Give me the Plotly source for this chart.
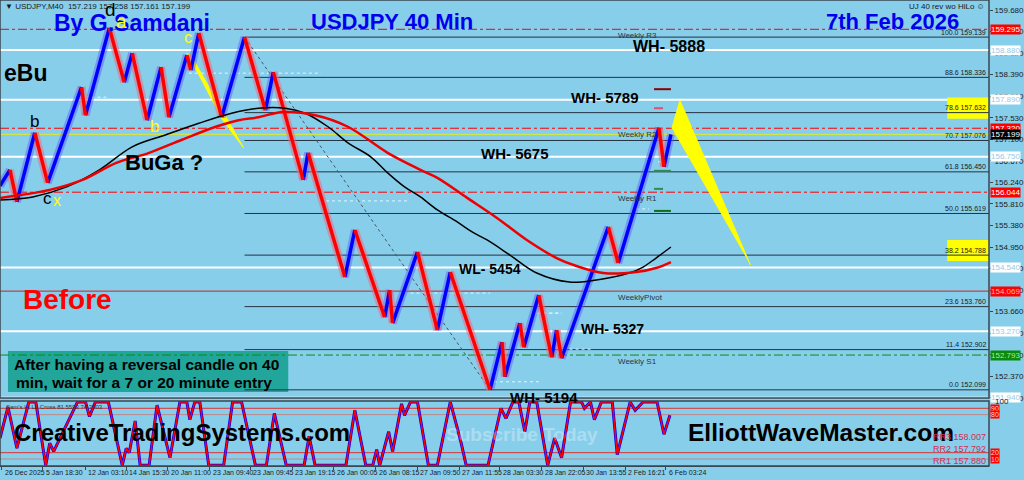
import plotly.graph_objects as go

BG = "#87CEEB"
FONT = "Liberation Sans"

# ---- price path (bar position, price) : swing points
price_x = [0, 10, 17, 35, 48, 82, 86, 110, 125, 133, 148, 162, 170, 188, 192, 200, 223, 246, 267, 275,
           305, 310, 347, 357, 387, 392, 395, 420, 440, 453, 493, 505, 508, 523, 527, 542, 555, 560, 565, 612,
           622, 663, 668, 675]
price_y = [156.17, 156.49, 155.85, 157.23, 156.23, 158.14, 157.58, 159.32, 158.24, 158.82,
           157.48, 158.54, 157.54, 158.78, 158.48, 159.22, 157.54, 159.14, 157.68, 158.44,
           156.29, 156.83, 154.35, 155.29, 153.55, 154.09, 153.43, 154.85, 153.29, 154.45,
           152.10, 153.05, 152.36, 153.43, 152.95, 153.99, 152.75, 153.29, 152.73, 155.35,
           154.63, 157.33, 156.55, 157.20]

# ---- moving averages
ma_black_x = [0, 33, 67, 100, 133, 167, 200, 233, 260, 287, 307, 330, 350, 373, 390, 407, 423, 440, 460, 475,
              490, 513, 540, 573, 600, 617, 633, 647, 660, 675]
ma_black_y = [155.89, 155.95, 156.15, 156.49, 156.95, 157.19, 157.42, 157.62, 157.72, 157.72,
              157.62, 157.35, 157.03, 156.75, 156.43, 156.15, 155.95, 155.69, 155.45, 155.25,
              155.09, 154.79, 154.43, 154.25, 154.29, 154.35, 154.43, 154.55, 154.73, 154.95]
ma_red_x = [0, 50, 83, 117, 150, 183, 217, 240, 260, 283, 317, 350, 390, 423, 440, 470, 500, 530, 560, 580,
            607, 640, 660, 675]
ma_red_y = [155.93, 156.09, 156.29, 156.63, 156.83, 157.09, 157.35, 157.48, 157.54, 157.64,
            157.58, 157.35, 156.83, 156.49, 156.33, 155.93, 155.53, 155.09, 154.73, 154.57,
            154.43, 154.45, 154.53, 154.65]

# ---- fibonacci retracement
fib_ratio = ["100.0", "88.6", "78.6", "70.7", "61.8", "50.0", "38.2", "23.6", "11.4", "0.0"]
fib_price = [159.139, 158.336, 157.632, 157.076, 156.450, 155.619, 154.788, 153.760, 152.902, 152.099]
fib_hilite = ["78.6", "38.2"]
fib_anchor_x = [246, 493]
fib_anchor_y = [159.139, 152.099]

# ---- horizontal levels
white_levels = [158.880, 157.890, 156.750, 154.540, 153.270, 151.940]
red_levels = [159.295, 157.320, 156.044]
pivot_level = 154.069
s1_level = 152.793
bid_level = 157.199
weekly_names = ["Weekly R3", "Weekly R2", "Weekly R1", "WeeklyPivot", "Weekly S1"]
weekly_prices = [159.295, 157.320, 156.044, 154.069, 152.793]

# short white dotted swing marks (start bar, end bar, price)
swing_mark_x0 = [80, 190, 328, 413, 497, 540, 547, 567, 640, 662]
swing_mark_x1 = [107, 323, 410, 493, 542, 565, 565, 597, 653, 672]
swing_mark_p = [157.94, 158.42, 155.87, 154.03, 152.26, 153.63, 153.63, 152.91, 155.71, 156.65]

# small level ticks next to the last bar
tick_mark_p = [158.10, 157.72, 156.47, 156.11, 155.67]
tick_mark_c = ["#8b0000", "#e05070", "#2e8b57", "#2e8b57", "#107010"]
tick_mark_d = ["solid", "dash", "solid", "dash", "solid"]

# ---- wave/target labels
target_names = ["WH- 5888", "WH- 5789", "WH- 5675", "WL- 5454", "WH- 5327", "WH- 5194"]

# ---- projection wedges (x, price)
proj_x = [676, 684, 755]
proj_y = [157.32, 157.88, 154.59]
wedge_x = [188, 195, 245, 222]
wedge_y = [158.82, 158.68, 156.93, 157.54]

# ---- oscillator
osc_x = [0, 8, 17, 29, 36, 46, 50, 54, 78, 86, 90, 96, 109, 123, 127, 130, 136, 141, 150, 158,
         171, 181, 188, 191, 196, 201, 210, 225, 234, 243, 257, 268, 276, 288, 306, 311, 317, 348, 357, 368,
         375, 379, 382, 391, 395, 404, 407, 413, 420, 431, 440, 453, 460, 464, 469, 491, 504, 509, 516, 522,
         528, 533, 540, 551, 558, 565, 574, 585, 588, 594, 598, 605, 616, 621, 634, 639, 647, 661, 668, 674]
osc_v = [43, 92, 27, 100, 100, 0, 35, 22, 100, 100, 77, 100, 100, 0, 27, 20, 70, 0, 0, 95,
         12, 100, 100, 72, 100, 100, 0, 0, 100, 100, 0, 0, 82, 0, 0, 46, 0, 0, 87, 0,
         0, 25, 0, 53, 22, 97, 79, 100, 100, 0, 0, 100, 59, 35, 0, 0, 90, 74, 100, 100,
         53, 100, 100, 0, 43, 12, 100, 100, 90, 100, 72, 100, 100, 17, 100, 87, 100, 100, 49, 79]
osc_levels = [90, 80, 20, 10]
osc_level_colors = ["#E03030", "#C08888", "#E03030", "#C08888"]

# ---- axes
price_ticks = [159.680, 159.250, 158.820, 158.390, 157.960, 157.530, 157.100, 156.670, 156.240, 155.810,
               155.380, 154.950, 154.520, 154.090, 153.660, 153.230, 152.800, 152.370, 151.940]
time_pos = [2, 43, 86, 127, 169, 211, 252, 294, 336, 378, 420, 462, 503, 545, 587, 629, 670]
time_labels = ["26 Dec 2025", "5 Jan 18:30", "12 Jan 03:10", "14 Jan 15:30", "20 Jan 11:00", "23 Jan 09:40",
               "23 Jan 09:45", "23 Jan 19:15", "26 Jan 00:05", "26 Jan 08:15", "27 Jan 09:50", "27 Jan 11:55",
               "28 Jan 03:30", "28 Jan 22:05", "30 Jan 13:55", "2 Feb 16:21", "6 Feb 03:24"]

# right-axis marker boxes: price, background, text colour
marker_boxes = [(159.295, "#FF0000", "white"), (158.880, "white", "#9cc8e4"), (157.890, "white", "#9cc8e4"),
                (157.320, "#FF0000", "white"), (157.199, "black", "white"), (156.750, "white", "#9cc8e4"),
                (156.044, "#FF0000", "white"), (154.540, "white", "#9cc8e4"), (154.069, "#FF0000", "#ffb0b0"),
                (153.270, "white", "#9cc8e4"), (152.793, "#0a8a0a", "#a8e8a8"), (151.940, "white", "#9cc8e4")]

PW, PH = 995, 466          # plot area in pixels
MAIN_BOTTOM = 398


def paper(x, y):
    return x / PW, (PH - y) / PH


fig = go.Figure()

# price zigzag, blue up legs and red down legs
up_x, up_y, dn_x, dn_y = [], [], [], []
for i in range(len(price_x) - 1):
    seg_x = [price_x[i], price_x[i + 1], None]
    seg_y = [price_y[i], price_y[i + 1], None]
    if price_y[i + 1] >= price_y[i]:
        up_x += seg_x
        up_y += seg_y
    else:
        dn_x += seg_x
        dn_y += seg_y

fig.add_trace(go.Scatter(x=fib_anchor_x, y=fib_anchor_y, mode="lines",
                         line=dict(color="#4a5560", width=1, dash="dot")))
fig.add_trace(go.Scatter(x=wedge_x, y=wedge_y, fill="toself", mode="lines",
                         fillcolor="#FFFF00", line=dict(color="#FFFF00", width=1)))
fig.add_trace(go.Scatter(x=up_x, y=up_y, mode="lines", line=dict(color="rgba(90,90,255,0.45)", width=8)))
fig.add_trace(go.Scatter(x=dn_x, y=dn_y, mode="lines", line=dict(color="rgba(235,110,130,0.55)", width=8)))
fig.add_trace(go.Scatter(x=up_x, y=up_y, mode="lines", line=dict(color="#0000FF", width=3.5)))
fig.add_trace(go.Scatter(x=dn_x, y=dn_y, mode="lines", line=dict(color="#FF0000", width=3.5)))
fig.add_trace(go.Scatter(x=ma_black_x, y=ma_black_y, mode="lines", line=dict(color="black", width=1.5, shape="spline")))
fig.add_trace(go.Scatter(x=ma_red_x, y=ma_red_y, mode="lines", line=dict(color="#EE0000", width=2.5, shape="spline")))
fig.add_trace(go.Scatter(x=proj_x, y=proj_y, fill="toself", mode="lines",
                         fillcolor="#FFFF00", line=dict(color="#FFFF00", width=1)))

# oscillator
fig.add_trace(go.Scatter(x=osc_x, y=osc_v, yaxis="y2", mode="lines", line=dict(color="#0000FF", width=3)))
fig.add_trace(go.Scatter(x=osc_x, y=osc_v, yaxis="y2", mode="lines", line=dict(color="#FF0000", width=1.6)))

shapes = []
# text box (behind the levels)
bx0, by0 = paper(8, 392)
bx1, by1 = paper(290, 351)
shapes.append(dict(type="rect", xref="paper", yref="paper", x0=bx0, x1=bx1, y0=by0, y1=by1,
                   fillcolor="#22A59A", line=dict(width=0), layer="below"))
for p in white_levels:
    shapes.append(dict(type="line", xref="paper", yref="y", x0=0, x1=1, y0=p, y1=p,
                       line=dict(color="white", width=2), layer="below"))
for p in red_levels:
    shapes.append(dict(type="line", xref="paper", yref="y", x0=0, x1=1, y0=p, y1=p,
                       line=dict(color="#FF0000", width=1, dash="dashdot"), layer="below"))
shapes.append(dict(type="line", xref="paper", yref="y", x0=0, x1=1, y0=pivot_level, y1=pivot_level,
                   line=dict(color="#D02020", width=1), layer="below"))
shapes.append(dict(type="line", xref="paper", yref="y", x0=0, x1=1, y0=s1_level, y1=s1_level,
                   line=dict(color="#108a10", width=1, dash="dashdot"), layer="below"))
shapes.append(dict(type="line", xref="paper", yref="y", x0=0, x1=1, y0=bid_level, y1=bid_level,
                   line=dict(color="#E8E820", width=1), layer="below"))
for r, p in zip(fib_ratio, fib_price):
    if r in fib_hilite:
        shapes.append(dict(type="rect", xref="x", yref="y", x0=953, x1=PW, y0=p - 0.12, y1=p + 0.30,
                           fillcolor="#FFFF00", line=dict(width=0), layer="below"))
    shapes.append(dict(type="line", xref="x", yref="y", x0=fib_anchor_x[0], x1=PW, y0=p, y1=p,
                       line=dict(color="#26333f", width=1), layer="below"))
for x0, x1, p in zip(swing_mark_x0, swing_mark_x1, swing_mark_p):
    shapes.append(dict(type="line", xref="x", yref="y", x0=x0, x1=x1, y0=p, y1=p,
                       line=dict(color="#e8f4ff", width=1, dash="dot"), layer="below"))
for p, c, d in zip(tick_mark_p, tick_mark_c, tick_mark_d):
    shapes.append(dict(type="line", xref="x", yref="y", x0=price_x[-1] - 17, x1=price_x[-1], y0=p, y1=p,
                       line=dict(color=c, width=2, dash=d)))
for v, c in zip(osc_levels, osc_level_colors):
    shapes.append(dict(type="line", xref="paper", yref="y2", x0=0, x1=1, y0=v, y1=v,
                       line=dict(color=c, width=1), layer="below"))
# panel frames
_, mb = paper(0, MAIN_BOTTOM)
shapes.append(dict(type="rect", xref="paper", yref="paper", x0=0, x1=1, y0=mb, y1=1,
                   line=dict(color="#3a4650", width=1.5)))
_, ot = paper(0, 401)
shapes.append(dict(type="rect", xref="paper", yref="paper", x0=0, x1=1, y0=0, y1=ot,
                   line=dict(color="#3a4650", width=1.5)))

ann = []


def text(t, x, y, size, color="black", bold=False, xa="left", ya="middle", opacity=1.0):
    px, py = paper(x, y)
    ann.append(dict(text=f"<b>{t}</b>" if bold else t, x=px, y=py, xref="paper", yref="paper",
                    xanchor=xa, yanchor=ya, showarrow=False, opacity=opacity,
                    font=dict(family=FONT, size=size, color=color)))


text("▼ USDJPY,M40  157.219 157.258 157.161 157.199", 3, 6, 8, "#1a1a1a")
text("UJ 40 rev wo HiLo ☺", 993, 7, 8, "#1a1a1a", xa="right")
text("By G.Samdani", 52, 23, 23, "#0000EE", bold=True)
text("USDJPY 40 Min", 311, 22, 22, "#0000EE", bold=True)
text("7th Feb 2026", 829, 22, 22, "#0000EE", bold=True)
text("d", 111, 10, 19, "black", xa="center")
text("a", 122, 22, 19, "#FFFF00", xa="center")
text("c", 189, 37, 16, "#FFFF00", xa="center")
text("b", 35, 122, 17, "black", xa="center")
text("b", 155, 127, 17, "#FFFF00", xa="center")
text("c", 48, 199, 17, "black", xa="center")
text("x", 57, 200, 16, "#FFFF00", xa="center")
text("eBu", 2, 73, 23, "black", bold=True)
text("BuGa ?", 124, 163, 22, "black", bold=True)
text("Before", 21, 299, 28, "#FF0000", bold=True)

target_xy = [(635, 46, 16), (572, 97, 15), (482, 153, 15), (460, 269, 14), (583, 329, 14), (511, 397, 15)]
for name, (x, y, s) in zip(target_names, target_xy):
    text(name, x, y, s, "black", bold=True)

for name, p in zip(weekly_names, weekly_prices):
    ann.append(dict(text=name, x=620, y=p, xref="x", yref="y", xanchor="left", yanchor="middle",
                    yshift=-6, showarrow=False, font=dict(family=FONT, size=8, color="#2a3540")))
for r, p in zip(fib_ratio, fib_price):
    ann.append(dict(text=f"{r} {p:.3f}", x=PW, y=p, xref="x", yref="y", xanchor="right",
                    yanchor="middle", xshift=-1, yshift=5, showarrow=False,
                    font=dict(family=FONT, size=7, color="#1a1a1a")))

text("After having a reversal candle on 40", 12, 364, 15.5, "black", bold=True)
text("min, wait for a 7 or 20 minute entry", 14, 382, 15.5, "black", bold=True)
text("Sam's Hi Lo Cross 81.5593 74.3903", 4, 407, 6, "#333333")
text("CreativeTradingSystems.com", 12, 432, 24, "black", bold=True)
text("Subscribe Today", 447, 434, 19, "white", bold=True, opacity=0.3)
text("ElliottWaveMaster.com", 690, 432, 24.5, "black", bold=True)
text("RR3 158.007", 937, 437, 9, "#d03055")
text("RR2 157.792", 937, 449, 9, "#d03055")
text("RR1 157.880", 937, 461, 9, "#d03055")

for p, bg, fc in marker_boxes:
    ann.append(dict(text=f"{p:.3f}", x=1, y=p, xref="paper", yref="y", xanchor="left", yanchor="middle",
                    xshift=1, showarrow=False, bgcolor=bg, borderpad=0,
                    font=dict(family=FONT, size=8, color=fc)))
ann.append(dict(text="100", x=1, y=100, xref="paper", yref="y2", xanchor="left", yanchor="middle",
                xshift=4, showarrow=False, font=dict(family=FONT, size=8, color="#1a1a1a")))
for v in osc_levels:
    ann.append(dict(text=str(v), x=1, y=v, xref="paper", yref="y2", xanchor="left", yanchor="middle",
                    xshift=1, showarrow=False, bgcolor="#FF0000", borderpad=0,
                    font=dict(family=FONT, size=7, color="#ffcccc")))

for t, x in zip(time_labels, time_pos):
    ann.append(dict(text=t, x=x, y=-0.003, xref="x", yref="paper", xanchor="left", yanchor="top",
                    xshift=1, showarrow=False, font=dict(family=FONT, size=7, color="#1a1a1a")))

fig.update_layout(
    width=1024, height=480,
    paper_bgcolor=BG, plot_bgcolor=BG,
    showlegend=False,
    margin=dict(l=0, r=29, t=0, b=14),
    shapes=shapes,
    annotations=ann,
    xaxis=dict(range=[0, PW], anchor="y2", showgrid=False, zeroline=False, showline=True,
               linecolor="#3a4650", ticks="outside", ticklen=3, tickcolor="#3a4650",
               tickvals=time_pos, showticklabels=False, fixedrange=True),
    yaxis=dict(domain=[(PH - MAIN_BOTTOM) / PH, 1], range=[151.936, 159.880], side="right",
               anchor="x", showgrid=False, zeroline=False, tickvals=price_ticks,
               ticktext=[f"{p:.3f}" for p in price_ticks], ticks="outside", ticklen=3,
               tickcolor="#3a4650", tickfont=dict(family=FONT, size=8, color="#1a1a1a")),
    yaxis2=dict(domain=[0, (PH - 401) / PH], range=[-1, 101.5], side="right", anchor="x",
                showgrid=False, zeroline=False, showticklabels=False),
)

fig.write_html("out.html", config={"displayModeBar": False},
               post_script="document.body.style.margin='0px';document.body.style.overflow='hidden';")
